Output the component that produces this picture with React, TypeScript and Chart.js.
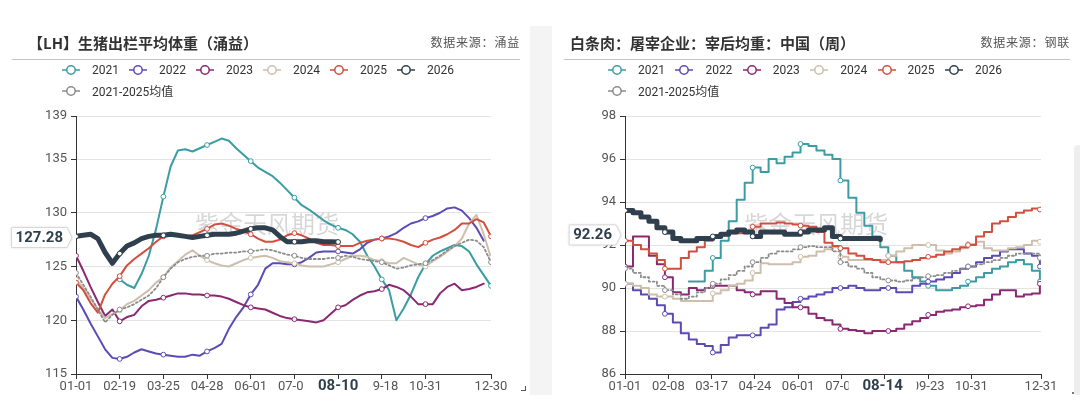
import React, { useEffect, useRef } from 'react';
import { Chart, registerables } from 'chart.js';

Chart.register(...registerables);
Chart.defaults.font.family = 'Roboto, "Noto Sans CJK SC", sans-serif';

type Val = number | null;

// 左图：生猪出栏平均体重（涌益），按序号排布
const lhTickIdx = [0, 6, 12, 18, 24, 30, 36, 42, 48, 57];
const lhTickLabels = ['01-01', '02-19', '03-25', '04-28', '06-01', '07-05', '08-10', '09-18', '10-31', '12-30'];
const lhYTicks = [115, 120, 125, 130, 135, 139];
const lhPointerIdx = 36;
const lhPointerLabel = '08-10';
const lhCurrent = 127.28;

const lh2021: Val[] = [
  null, null, null, null, null, null,
  123.8, 123.3, 123.0, 124.3, 126.0, 128.5, 131.5, 134.3, 135.8, 135.9,
  135.7, 136.0, 136.3, 136.6, 136.9, 136.7, 136.0, 135.4, 134.8, 134.2,
  133.8, 133.4, 132.8, 132.1, 131.4, 130.7, 130.3, 129.8, 129.3, 128.9,
  128.6, 128.4, 128.0, 127.3, 126.0, 125.0, 123.8, 122.8, 120.0, 121.1,
  122.4, 124.0, 125.2, 126.0, 126.4, 126.7, 127.0, 126.9, 126.4, 125.2,
  124.2, 123.2,
];
const lh2022: Val[] = [
  122.2, 121.0, 119.7, 118.5, 117.3, 116.5, 116.4, 116.6, 117.0, 117.3,
  117.1, 116.9, 116.8, 116.7, 116.6, 116.6, 116.8, 116.7, 117.1, 117.4,
  117.8, 119.2, 120.3, 121.2, 122.4, 123.3, 124.8, 125.3, 125.3, 125.2,
  125.2, 125.4, 125.8, 126.3, 126.4, 126.4, 126.4, 126.3, 126.2, 126.6,
  127.2, 127.5, 127.6, 127.8, 128.1, 128.6, 129.0, 129.2, 129.5, 129.7,
  130.0, 130.4, 130.5, 130.2, 129.5, 128.6, 127.4, null,
];
const lh2023: Val[] = [
  126.0, 124.6, 123.1, 121.7, 120.4, 121.0, 119.9, 120.3, 120.5, 121.3,
  121.8, 121.9, 122.1, 122.3, 122.5, 122.5, 122.4, 122.4, 122.3, 122.3,
  122.2, 122.0, 121.7, 121.4, 121.2, 121.1, 121.0, 120.7, 120.4, 120.2,
  120.1, 120.0, 119.9, 119.8, 120.0, 120.6, 121.2, 121.4, 121.9, 122.3,
  122.6, 122.7, 122.9, 123.3, 123.1, 122.8, 122.2, 121.5, 121.5, 121.5,
  122.5, 123.1, 123.4, 122.8, 122.9, 123.1, 123.4, null,
];
const lh2024: Val[] = [
  123.8, 123.0, 122.0, 121.0, 120.2, 120.6, 120.9, 121.5, 121.8, 122.3,
  122.8, 123.5, 124.0, 124.9, 125.5, 126.1, 126.5, 126.0, 125.6, 125.3,
  125.1, 125.0, 125.3, 125.6, 125.8, 125.9, 126.0, 125.8, 125.5, 125.4,
  125.3, 125.1, 125.0, 125.0, 125.0, 125.2, 125.4, 125.7, 126.0, 126.0,
  125.9, 125.6, 125.5, 125.3, 125.3, 125.8, 125.5, 125.2, 125.0, 125.5,
  125.9, 126.4, 126.9, 127.6, 129.0, 129.8, 128.0, 125.8,
];
const lh2025: Val[] = [
  123.5, 122.8, 121.6, 120.7, 122.4, 123.4, 124.1, 125.1, 125.7, 126.2,
  126.7, 127.3, 127.8, 128.0, 127.9, 127.8, 127.9, 128.2, 128.5, 128.9,
  129.0, 128.8, 128.5, 128.3, 128.0, 127.6, 127.3, 127.3, 127.5, 127.9,
  128.1, 127.9, 127.6, 127.2, 127.0, 127.0, 126.9, 126.9, 126.9, 127.2,
  127.4, 127.5, 127.6, 127.6, 127.5, 127.3, 127.0, 126.8, 127.2, 127.5,
  127.7, 128.0, 128.4, 129.0, 129.0, 129.4, 129.1, 127.8,
];
const lh2026: Val[] = [
  127.8, 127.9, 128.0, 127.6, 126.3, 125.3, 126.2, 126.9, 127.2, 127.6,
  127.8, 127.9, 127.9, 128.0, 127.9, 127.8, 127.7, 127.8, 127.9, 128.0,
  128.0, 128.0, 128.1, 128.3, 128.5, 128.6, 128.6, 128.4, 127.8, 127.3,
  127.3, 127.3, 127.4, 127.4, 127.3, 127.3, 127.28,
  null, null, null, null, null, null, null, null, null, null, null,
  null, null, null, null, null, null, null, null, null, null,
];
const lhMean: Val[] = [
  124.4, 123.3, 122.2, 121.0, 119.8, 120.5, 121.0, 121.2, 121.5, 121.9,
  122.3, 123.0, 124.0, 124.8, 125.4, 125.7, 125.9, 126.0, 126.0, 126.2,
  126.2, 126.3, 126.3, 126.4, 126.4, 126.5, 126.6, 126.5, 126.3, 126.1,
  126.0, 125.8, 125.7, 125.7, 125.7, 125.8, 125.8, 126.0, 125.9, 125.7,
  125.6, 125.5, 125.4, 125.1, 124.8, 124.9, 125.1, 125.2, 125.3, 125.6,
  126.0, 126.5, 126.9, 127.2, 127.5, 127.4, 126.8, 125.4,
];

// 右图：白条肉宰后均重（钢联），周度数据，横轴为日序（闰年）
const bwTickDays = [0, 38, 76, 114, 152, 190, 228, 266, 304, 365];
const bwTickLabels = ['01-01', '02-08', '03-17', '04-24', '06-01', '07-09', '08-16', '09-23', '10-31', '12-31'];
const bwYTicks = [86, 88, 90, 92, 94, 96, 98];
const bwPointerDay = 226;
const bwPointerLabel = '08-14';
const bwCurrent = 92.26;

const bw2021: Val[] = [
  null, null, null, null, null, null, null, null,
  90.3, 90.3, 90.8, 91.4, 92.2, 93.1, 94.1, 94.9, 95.6, 95.4,
  96.0, 95.8, 96.1, 96.3, 96.7, 96.6, 96.4, 96.2, 96.0, 95.0,
  94.2, 93.5, 92.9, 92.4, 91.9, 91.5, 91.2, 90.8, 90.5, 90.3,
  90.1, 89.9, 89.9, 90.0, 90.1, 90.3, 90.5, 90.7, 90.9, 91.0,
  91.2, 91.3, 91.1, 90.8, 90.3,
];
const bw2022: Val[] = [
  90.2, 89.9, 89.7, 89.5, 89.2, 88.8, 88.4, 87.9, 87.6, 87.4,
  87.3, 87.0, 87.35, 87.7, 87.8, 87.8, 87.8, 88.15, 88.3, 89.0,
  89.1, 89.35, 89.5, 89.6, 89.7, 89.8, 90.0, 90.0, 90.1, 90.0,
  89.9, 89.9, 90.0, 90.0, 89.8, 89.8, 90.1, 90.2, 90.3, 90.4,
  90.5, 90.7, 90.9, 91.0, 91.2, 91.4, 91.5, 91.7, 91.8, 91.8,
  91.6, 91.5, 91.0,
];
const bw2023: Val[] = [
  91.0, 92.4, 92.4, 91.5, 91.1, 90.5, 89.8, 89.7, 90.0, 89.9,
  90.0, 90.1, 90.1, 90.1, 89.9, 89.8, 89.7, 89.85, 89.85, 89.5,
  89.3, 89.1, 89.1, 88.8, 88.6, 88.5, 88.3, 88.1, 88.05, 88.0,
  87.9, 88.0, 88.0, 88.0, 88.1, 88.3, 88.45, 88.6, 88.75, 88.9,
  88.95, 89.0, 89.1, 89.15, 89.2, 89.45, 89.7, 89.9, 89.9, 89.6,
  89.7, 89.75, 90.2,
];
const bw2024: Val[] = [
  90.2, 90.1, 90.0, 89.7, 89.6, 89.6, 89.5, 89.4, 89.4, 89.4,
  89.4, 89.75, 89.9, 90.1, 90.2, 90.35, 90.7, 91.15, 91.1, 91.1,
  91.1, 91.2, 91.45, 91.5, 91.7, 91.8, 91.9, 91.45, 91.3, 91.3,
  91.3, 91.3, 91.3, 91.5, 91.7, 91.85, 92.0, 92.0, 92.0, 91.75,
  91.6, 91.7, 91.85, 92.05, 92.15, 91.85, 91.75, 91.75, 91.85, 91.9,
  92.0, 92.2, 92.15,
];
const bw2025: Val[] = [
  92.2, 92.0, 91.8, 91.6, 91.3, 90.9, 90.9, 91.4, 91.7, 91.9,
  92.2, 92.35, 92.45, 92.55, 92.55, 92.6, 92.85, 93.0, 93.0, 93.05,
  93.0, 92.95, 92.9, 92.85, 92.6, 92.1, 91.95, 91.85, 91.6, 91.5,
  91.35, 91.3, 91.2, 91.2, 91.2, 91.25, 91.3, 91.4, 91.45, 91.55,
  91.7, 91.8, 91.9, 92.0, 92.4, 92.6, 93.0, 93.1, 93.3, 93.5,
  93.6, 93.7, 93.65,
];
const bw2026: Val[] = [
  93.6, 93.5, 93.3, 93.1, 92.8, 92.6, 92.3, 92.2, 92.2, 92.3,
  92.3, 92.4, 92.5, 92.6, 92.7, 92.6, 92.4, 92.6, 92.6, 92.6,
  92.5, 92.5, 92.6, 92.7, 92.7, 92.8, 92.4, 92.3, 92.3, 92.3,
  92.3, 92.3, 92.26,
  null, null, null, null, null, null, null, null, null, null,
  null, null, null, null, null, null, null, null, null, null,
];
const bwMean: Val[] = [
  90.9, 90.7, 90.5, 90.3, 90.1, 89.9, 89.7, 89.5, 89.6, 89.8,
  90.0, 90.2, 90.4, 90.6, 90.8, 91.0, 91.2, 91.4, 91.6, 91.7,
  91.7, 91.8, 91.9, 91.95, 91.9, 91.9, 91.7, 91.2, 91.0, 90.9,
  90.7, 90.5, 90.4, 90.35, 90.3, 90.35, 90.45, 90.5, 90.55, 90.6,
  90.7, 90.8, 90.9, 91.0, 91.1, 91.2, 91.3, 91.4, 91.5, 91.6,
  91.6, 91.6, 91.4,
];

const colors = {
  y2021: '#3a9da3',
  y2022: '#5b4bb5',
  y2023: '#8a2872',
  y2024: '#cdbfac',
  y2025: '#d24e3e',
  y2026: '#2f3f4d',
  mean: '#8c8c8c',
};

interface Line {
  label: string;
  color: string;
  data: Val[];
  width: number;
  dash?: number[];
}

const makeLines = (d: Val[][]): Line[] => [
  { label: '2021', color: colors.y2021, data: d[0], width: 2 },
  { label: '2022', color: colors.y2022, data: d[1], width: 2 },
  { label: '2023', color: colors.y2023, data: d[2], width: 2 },
  { label: '2024', color: colors.y2024, data: d[3], width: 2 },
  { label: '2025', color: colors.y2025, data: d[4], width: 2 },
  { label: '2026', color: colors.y2026, data: d[5], width: 5 },
  { label: '2021-2025均值', color: colors.mean, data: d[6], width: 1.8, dash: [2, 2.5] },
];

const lhLines = makeLines([lh2021, lh2022, lh2023, lh2024, lh2025, lh2026, lhMean]);
const bwLines = makeLines([bw2021, bw2022, bw2023, bw2024, bw2025, bw2026, bwMean]);

const watermark = '紫金天风期货';

interface PanelProps {
  lines: Line[];
  xStep: number;
  xMax: number;
  xTicks: number[];
  xTickLabels: string[];
  yTicks: number[];
  stepped: boolean;
  pointerX: number;
  pointerXLabel: string;
  pointerY: number;
  yAxisWidth: number;
}

const LinePanel: React.FC<PanelProps> = (p) => {
  const canvasRef = useRef<HTMLCanvasElement | null>(null);
  const chartRef = useRef<Chart | null>(null);

  useEffect(() => {
    const canvas = canvasRef.current;
    if (!canvas) return;
    const ctx = canvas.getContext('2d');
    if (!ctx) return;

    const tol = p.xStep / 2;
    const isMark = (x: number) => p.xTicks.some((t) => Math.abs(t - x) <= tol);

    const overlay = {
      id: 'overlay',
      beforeDatasetsDraw(chart: any) {
        const { ctx: c, chartArea: a } = chart;
        c.save();
        c.font = '24px "Noto Sans CJK SC"';
        c.fillStyle = 'rgba(0,0,0,0.16)';
        c.textAlign = 'center';
        c.textBaseline = 'middle';
        c.fillText(watermark, a.left + a.width * 0.46, a.top + a.height * 0.42);
        c.restore();
      },
      afterDraw(chart: any) {
        const { ctx: c, chartArea: a, scales } = chart;
        const px = scales.x.getPixelForValue(p.pointerX);
        const py = scales.y.getPixelForValue(p.pointerY) - 4.5;
        c.save();
        c.font = 'bold 15px Roboto';
        c.textAlign = 'center';
        c.textBaseline = 'middle';
        // date pointer under the x axis
        c.fillStyle = '#fff';
        c.fillRect(px - 34, a.bottom + 6, 68, 19);
        c.fillStyle = '#2f3f4d';
        c.fillText(p.pointerXLabel, px, a.bottom + 12);
        // value pointer left of the y axis
        const txt = p.pointerY.toFixed(2);
        const tw = c.measureText(txt).width;
        const tip = a.left - 4;
        const bodyR = tip - 5;
        const bodyL = bodyR - tw - 8;
        const top = py - 10;
        const bot = py + 10;
        c.beginPath();
        c.moveTo(bodyL, top);
        c.lineTo(bodyR, top);
        c.lineTo(tip, py);
        c.lineTo(bodyR, bot);
        c.lineTo(bodyL, bot);
        c.closePath();
        c.shadowColor = 'rgba(0,0,0,0.18)';
        c.shadowBlur = 3;
        c.fillStyle = '#fff';
        c.fill();
        c.shadowColor = 'transparent';
        c.shadowBlur = 0;
        c.strokeStyle = '#d8d8d8';
        c.lineWidth = 1;
        c.stroke();
        c.fillStyle = '#2f3f4d';
        c.fillText(txt, (bodyL + bodyR) / 2, py + 0.5);
        c.restore();
      },
    };

    const n = p.lines.length;
    const config: any = {
      type: 'line',
      data: {
        datasets: p.lines.map((s, i) => ({
          label: s.label,
          data: s.data.map((v, j) => ({ x: j * p.xStep, y: v })),
          borderColor: s.color,
          backgroundColor: s.color,
          borderWidth: s.width,
          borderDash: s.dash ?? [],
          borderCapStyle: 'round',
          borderJoinStyle: 'round',
          stepped: p.stepped ? 'before' : false,
          tension: 0,
          spanGaps: false,
          order: n - i,
          pointRadius: (c: any) => (c.raw && isMark(c.raw.x) ? 2.4 : 0),
          pointBackgroundColor: '#fff',
          pointBorderColor: s.color,
          pointBorderWidth: 1,
          pointHoverRadius: 0,
        })),
      },
      options: {
        animation: false,
        responsive: true,
        maintainAspectRatio: false,
        events: [],
        layout: { padding: { top: 116, right: 39, bottom: 8, left: 0 } },
        plugins: { legend: { display: false }, tooltip: { enabled: false } },
        scales: {
          x: {
            type: 'linear',
            min: 0,
            max: p.xMax,
            afterBuildTicks: (s: any) => {
              s.ticks = p.xTicks.map((v) => ({ value: v }));
            },
            afterFit: (s: any) => {
              s.height = 25;
            },
            ticks: {
              autoSkip: false,
              maxRotation: 0,
              padding: 0,
              color: '#555',
              font: { size: 13 },
              callback: (v: number) => {
                const k = p.xTicks.indexOf(v);
                return k >= 0 ? p.xTickLabels[k] : '';
              },
            },
            grid: { drawOnChartArea: false, tickLength: 5, tickColor: '#333', color: '#333' },
            border: { color: '#333', width: 1 },
          },
          y: {
            type: 'linear',
            min: p.yTicks[0],
            max: p.yTicks[p.yTicks.length - 1],
            afterBuildTicks: (s: any) => {
              s.ticks = p.yTicks.map((v) => ({ value: v }));
            },
            afterFit: (s: any) => {
              s.width = p.yAxisWidth;
            },
            ticks: { padding: 4, color: '#555', font: { size: 13 } },
            grid: { color: '#e3e3e3', tickColor: '#333', tickLength: 5 },
            border: { color: '#333', width: 1 },
          },
        },
      },
      plugins: [overlay],
    };

    if (chartRef.current) {
      chartRef.current.destroy();
    }
    chartRef.current = new Chart(ctx, config);

    return () => {
      if (chartRef.current) {
        chartRef.current.destroy();
        chartRef.current = null;
      }
    };
  }, [p]);

  return <canvas ref={canvasRef} />;
};

const LegendIcon: React.FC<{ color: string }> = ({ color }) => (
  <svg width="18" height="12" style={{ display: 'block' }}>
    <line x1="0" y1="6" x2="18" y2="6" stroke={color} strokeWidth="1.5" />
    <circle cx="9" cy="6" r="4.2" fill="#fff" stroke={color} strokeWidth="1.5" />
  </svg>
);

const Header: React.FC<{
  left: number;
  width: number;
  title: string;
  source: string;
  titleX: number;
  legendX: number;
  legendGap: number;
  lines: Line[];
}> = ({ left, width, title, source, titleX, legendX, legendGap, lines }) => (
  <div style={{ position: 'absolute', left, top: 0, width, height: 110 }}>
    <div
      style={{
        position: 'absolute',
        left: titleX,
        top: 34,
        fontFamily: '"Noto Sans CJK SC"',
        fontWeight: 700,
        fontSize: 15,
        lineHeight: '18px',
        color: '#333',
        whiteSpace: 'nowrap',
      }}
    >
      {title}
    </div>
    <div
      style={{
        position: 'absolute',
        right: 10,
        top: 34,
        fontFamily: '"Noto Sans CJK SC"',
        fontSize: 12,
        letterSpacing: 0.8,
        lineHeight: '15px',
        color: '#555',
        whiteSpace: 'nowrap',
      }}
    >
      {source}
    </div>
    <div style={{ position: 'absolute', left: 12, right: 10, top: 59, height: 1, background: '#c4c4c4' }} />
    {lines.map((s, i) => {
      const row = i < 6 ? 0 : 1;
      const col = i < 6 ? i : 0;
      return (
        <div
          key={s.label}
          style={{
            position: 'absolute',
            left: legendX + col * legendGap,
            top: 62 + row * 21,
            height: 15,
            display: 'flex',
            alignItems: 'center',
            whiteSpace: 'nowrap',
          }}
        >
          <LegendIcon color={s.color} />
          <span style={{ marginLeft: 12, fontFamily: 'Roboto, "Noto Sans CJK SC"', fontSize: 12, color: '#333' }}>
            {s.label}
          </span>
        </div>
      );
    })}
  </div>
);

const lhProps: PanelProps = {
  lines: lhLines,
  xStep: 1,
  xMax: lhTickIdx[lhTickIdx.length - 1],
  xTicks: lhTickIdx,
  xTickLabels: lhTickLabels,
  yTicks: lhYTicks,
  stepped: false,
  pointerX: lhPointerIdx,
  pointerXLabel: lhPointerLabel,
  pointerY: lhCurrent,
  yAxisWidth: 76,
};

const bwProps: PanelProps = {
  lines: bwLines,
  xStep: 7,
  xMax: bwTickDays[bwTickDays.length - 1],
  xTicks: bwTickDays,
  xTickLabels: bwTickLabels,
  yTicks: bwYTicks,
  stepped: true,
  pointerX: bwPointerDay,
  pointerXLabel: bwPointerLabel,
  pointerY: bwCurrent,
  yAxisWidth: 73,
};

const App: React.FC = () => (
  <div style={{ position: 'relative', width: 1080, height: 407, background: '#fff', overflow: 'hidden' }}>
    <style>{'body{margin:0;background:#fff}'}</style>
    <div style={{ position: 'absolute', left: 530, top: 26, width: 22, height: 369, background: '#f4f4f4' }} />
    <div
      style={{
        position: 'absolute',
        left: 1074,
        top: 145,
        width: 6,
        height: 250,
        background: '#eeeeee',
        borderRadius: '4px 0 0 4px',
      }}
    />
    <div style={{ position: 'absolute', left: 0, top: 0, width: 530, height: 407 }}>
      <LinePanel {...lhProps} />
    </div>
    <div style={{ position: 'absolute', left: 552, top: 0, width: 528, height: 407 }}>
      <LinePanel {...bwProps} />
    </div>
    <Header
      left={0}
      width={530}
      title="【LH】生猪出栏平均体重（涌益）"
      source="数据来源：涌益"
      titleX={28}
      legendX={62}
      legendGap={67}
      lines={lhLines}
    />
    <Header
      left={552}
      width={528}
      title="白条肉：屠宰企业：宰后均重：中国（周）"
      source="数据来源：钢联"
      titleX={18}
      legendX={56}
      legendGap={67.4}
      lines={bwLines}
    />
    <div
      style={{
        position: 'absolute',
        left: 521,
        top: 386,
        width: 4,
        height: 4,
        borderRight: '1px solid #555',
        borderBottom: '1px solid #555',
      }}
    />
    <div style={{ position: 'absolute', left: 1072, top: 392, width: 2, height: 2, background: '#777' }} />
  </div>
);

export default App;
